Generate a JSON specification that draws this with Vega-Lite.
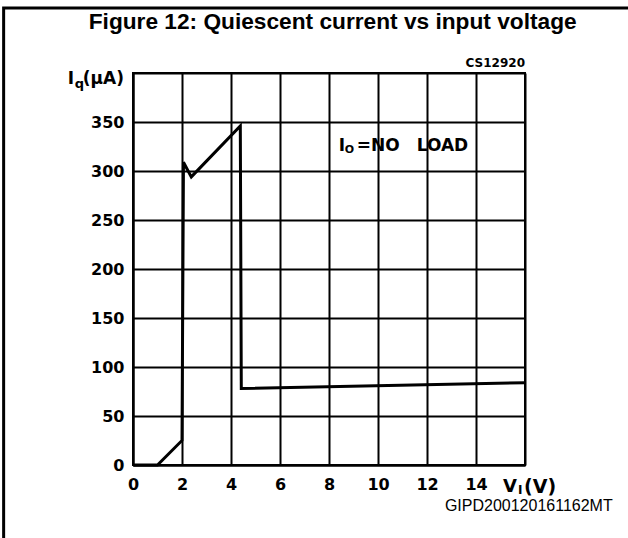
{
  "$schema": "https://vega.github.io/schema/vega-lite/v6.json",
  "width": 392,
  "height": 392,
  "autosize": {"type": "none"},
  "padding": {"left": 133, "top": 73, "right": 103, "bottom": 73},
  "background": "white",
  "config": {
    "view": {"stroke": "black", "strokeWidth": 2},
    "axis": {
      "grid": true, "gridColor": "black", "gridWidth": 2, "gridOpacity": 1,
      "domainColor": "black", "domainWidth": 2, "ticks": false,
      "labelFont": "DejaVu Sans", "labelFontWeight": "bold", "labelFontSize": 16,
      "labelColor": "black", "labelFlush": false, "labelOverlap": false
    }
  },
  "layer": [
    {
      "data": {"values": [
        {"v": 0, "iq": 0},
        {"v": 1, "iq": 0},
        {"v": 2, "iq": 25},
        {"v": 2.06, "iq": 309},
        {"v": 2.38, "iq": 294},
        {"v": 4.38, "iq": 346},
        {"v": 4.42, "iq": 78},
        {"v": 16, "iq": 84}
      ]},
      "mark": {"type": "line", "color": "black", "strokeWidth": 3, "strokeJoin": "miter"},
      "encoding": {
        "x": {"field": "v", "type": "quantitative",
          "scale": {"domain": [0, 16], "nice": false, "zero": false},
          "axis": {"values": [0, 2, 4, 6, 8, 10, 12, 14, 16], "labelExpr": "datum.value == 16 ? '' : datum.label", "labelPadding": 11, "title": null}},
        "y": {"field": "iq", "type": "quantitative",
          "scale": {"domain": [0, 400], "nice": false},
          "axis": {"values": [0, 50, 100, 150, 200, 250, 300, 350, 400], "labelExpr": "datum.value == 400 ? '' : datum.label", "labelPadding": 9, "title": null}}
      }
    },
    {
      "data": {"values": [{}]},
      "mark": {"type": "rect", "fill": null, "fillOpacity": 0, "stroke": "black", "strokeWidth": 3, "clip": false},
      "encoding": {
        "x": {"datum": -5.28, "type": "quantitative"},
        "x2": {"datum": 25},
        "y": {"datum": 466.3, "type": "quantitative"},
        "y2": {"datum": -150}
      }
    },
    {
      "data": {"values": [{}]},
      "mark": {"type": "text", "text": "Figure 12: Quiescent current vs input voltage", "font": "Liberation Sans", "fontWeight": "bold", "fontSize": 22.7, "align": "center", "baseline": "alphabetic", "color": "black", "clip": false},
      "encoding": {"x": {"datum": 8.15, "type": "quantitative"}, "y": {"datum": 445, "type": "quantitative"}}
    },
    {
      "data": {"values": [{}]},
      "mark": {"type": "text", "text": "CS12920", "font": "DejaVu Sans", "fontWeight": "bold", "fontSize": 12, "align": "right", "baseline": "alphabetic", "color": "black"},
      "encoding": {"x": {"datum": 16, "type": "quantitative"}, "y": {"datum": 406, "type": "quantitative"}}
    },
    {
      "data": {"values": [{}]},
      "mark": {"type": "text", "text": "(μA)", "font": "DejaVu Sans", "fontWeight": "bold", "fontSize": 17, "align": "right", "baseline": "middle", "dx": -9, "color": "black"},
      "encoding": {"x": {"datum": 0, "type": "quantitative"}, "y": {"datum": 394, "type": "quantitative"}}
    },
    {
      "data": {"values": [{}]},
      "mark": {"type": "text", "text": "q", "font": "DejaVu Sans", "fontWeight": "bold", "fontSize": 13, "align": "right", "baseline": "middle", "dx": -49, "color": "black"},
      "encoding": {"x": {"datum": 0, "type": "quantitative"}, "y": {"datum": 389, "type": "quantitative"}}
    },
    {
      "data": {"values": [{}]},
      "mark": {"type": "text", "text": "I", "font": "DejaVu Sans", "fontWeight": "bold", "fontSize": 17, "align": "right", "baseline": "middle", "dx": -59, "color": "black"},
      "encoding": {"x": {"datum": 0, "type": "quantitative"}, "y": {"datum": 394, "type": "quantitative"}}
    },
    {
      "data": {"values": [{}]},
      "mark": {"type": "text", "text": "V", "font": "DejaVu Sans", "fontWeight": "bold", "fontSize": 18, "align": "left", "baseline": "middle", "dx": -22, "color": "black"},
      "encoding": {"x": {"datum": 16, "type": "quantitative"}, "y": {"datum": -22, "type": "quantitative"}}
    },
    {
      "data": {"values": [{}]},
      "mark": {"type": "text", "text": "I", "font": "DejaVu Sans", "fontWeight": "bold", "fontSize": 12, "align": "left", "baseline": "middle", "dx": -7, "color": "black"},
      "encoding": {"x": {"datum": 16, "type": "quantitative"}, "y": {"datum": -26, "type": "quantitative"}}
    },
    {
      "data": {"values": [{}]},
      "mark": {"type": "text", "text": "(V)", "font": "DejaVu Sans", "fontWeight": "bold", "fontSize": 19, "align": "left", "baseline": "middle", "dx": -1, "color": "black"},
      "encoding": {"x": {"datum": 16, "type": "quantitative"}, "y": {"datum": -22, "type": "quantitative"}}
    },
    {
      "data": {"values": [{}]},
      "mark": {"type": "text", "text": "I", "font": "DejaVu Sans", "fontWeight": "bold", "fontSize": 17, "align": "left", "baseline": "middle", "color": "black"},
      "encoding": {"x": {"datum": 8.4, "type": "quantitative"}, "y": {"datum": 325.5, "type": "quantitative"}}
    },
    {
      "data": {"values": [{}]},
      "mark": {"type": "text", "text": "O", "font": "DejaVu Sans", "fontWeight": "bold", "fontSize": 11, "align": "left", "baseline": "middle", "color": "black"},
      "encoding": {"x": {"datum": 8.64, "type": "quantitative"}, "y": {"datum": 321.5, "type": "quantitative"}}
    },
    {
      "data": {"values": [{}]},
      "mark": {"type": "text", "text": "=NO", "font": "DejaVu Sans", "fontWeight": "bold", "fontSize": 17, "align": "left", "baseline": "middle", "color": "black"},
      "encoding": {"x": {"datum": 9.13, "type": "quantitative"}, "y": {"datum": 325.5, "type": "quantitative"}}
    },
    {
      "data": {"values": [{}]},
      "mark": {"type": "text", "text": "LOAD", "font": "DejaVu Sans", "fontWeight": "bold", "fontSize": 17, "align": "left", "baseline": "middle", "color": "black"},
      "encoding": {"x": {"datum": 11.58, "type": "quantitative"}, "y": {"datum": 325.5, "type": "quantitative"}}
    },
    {
      "data": {"values": [{}]},
      "mark": {"type": "text", "text": "GIPD200120161162MT", "font": "Liberation Sans", "fontSize": 16, "align": "right", "baseline": "alphabetic", "color": "black", "clip": false},
      "encoding": {"x": {"datum": 19.58, "type": "quantitative"}, "y": {"datum": -46.9, "type": "quantitative"}}
    }
  ]
}
